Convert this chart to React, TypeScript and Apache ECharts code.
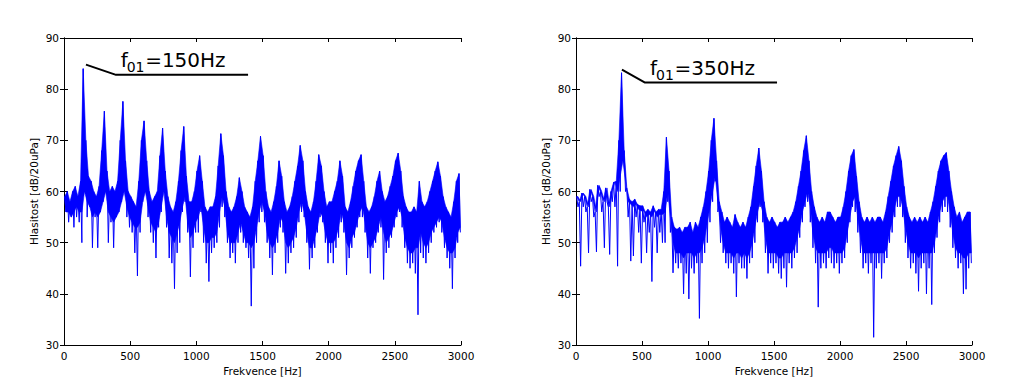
import React, { useEffect, useRef } from "react";
import * as echarts from "echarts";

const BIN_HZ = 20;
const X_TICKS = [0, 500, 1000, 1500, 2000, 2500, 3000];
const Y_TICKS = [30, 40, 50, 60, 70, 80, 90];
const X_NAME = "Frekvence [Hz]";
const Y_NAME = "Hlasitost [dB/20uPa]";

// Upper envelope, dense-band floor and deepest dip of the spectrum per 20 Hz bin (dB)
const LEFT_HI = [
  59, 60, 58, 60, 61, 59, 62, 84, 70, 63,
  62, 60, 59, 61, 68, 75.7, 64, 60, 61, 60,
  62, 70, 77.6, 66, 60, 59, 58, 57, 62, 70,
  73.8, 66, 60, 58, 59, 60, 67, 72.4, 64, 59,
  57, 56, 58, 62, 68, 72.7, 63, 58, 58, 60,
  64, 67, 62, 57, 56, 57, 57, 59, 65, 71.3,
  67, 60, 57, 56, 57, 59, 62.7, 60, 57, 56,
  55, 57, 62, 66, 70.8, 67, 60, 57, 56, 58,
  61, 66, 63, 58, 56, 57, 59, 62, 65, 69,
  66, 60, 57, 56, 58, 62, 67.2, 65, 60, 57,
  58, 58, 60, 62, 66, 63, 57, 56, 58, 61,
  64, 66, 67.2, 62, 57, 56, 57, 59, 62, 64,
  60, 58, 59, 61, 63, 66, 67.5, 64, 59, 57,
  56, 56, 57, 56, 62, 58, 57, 58, 60, 62,
  64, 65.8, 63, 59, 57, 56, 55, 58, 62, 63.5,
];
const LEFT_FLOOR = [
  56, 56, 55, 56, 57, 56, 56, 60, 58, 57,
  55, 56, 55, 56, 58, 60, 56, 55, 54, 55,
  56, 58, 60, 57, 55, 54, 53, 53, 54, 58,
  60, 57, 54, 53, 52, 54, 57, 60, 55, 52,
  51, 50, 52, 54, 57, 59, 54, 51, 52, 54,
  55, 57, 53, 50, 50, 51, 51, 52, 56, 59,
  57, 52, 50, 50, 50, 52, 54, 52, 50, 50,
  49, 50, 53, 56, 58, 56, 52, 50, 49, 50,
  52, 55, 54, 50, 49, 50, 51, 53, 56, 58,
  56, 52, 49, 49, 51, 53, 56, 55, 52, 50,
  50, 50, 51, 53, 56, 54, 50, 49, 51, 52,
  54, 56, 57, 54, 50, 49, 50, 51, 53, 55,
  52, 50, 51, 52, 54, 56, 57, 55, 51, 49,
  48, 48, 49, 49, 52, 50, 49, 50, 52, 53,
  54, 55, 54, 51, 49, 48, 48, 49, 52, 53,
];
const LEFT_LO = [
  56, 54, 55, 53, 55, 54, 50, 60, 55, 57,
  49, 55, 49, 56, 58, 60, 50, 54, 49, 55,
  56, 58, 62, 55, 53, 52, 48, 43.5, 52, 58,
  60, 55, 52, 50, 47, 53, 56, 60, 53, 47,
  46, 41, 48, 50, 56, 58, 52, 43.3, 49, 52,
  52, 56, 50, 46, 42.4, 48, 49, 50, 53, 57,
  55, 50, 47, 48, 46, 50, 52, 50, 49, 47,
  37.6, 45, 50, 54, 56, 54, 50, 47, 43.7, 48,
  50, 53, 52, 44, 46, 48, 49, 51, 54, 56,
  55, 50, 44.8, 47, 49, 52, 55, 54, 50, 46,
  48, 46, 49, 51, 54, 52, 43.7, 47, 49, 51,
  53, 55, 55, 52, 47, 44, 49, 50, 52, 53,
  42.8, 48, 49, 51, 53, 55, 56, 53, 49, 46,
  45, 46, 44, 35.9, 48, 47, 46, 48, 50, 52,
  53, 54, 52, 49, 47, 45, 41, 47, 50, 52,
];
const RIGHT_HI = [
  59, 58, 59.7, 59, 57, 60.4, 59, 56, 61.2, 60,
  58, 60.7, 57, 60, 61.8, 62, 70, 83.2, 68, 60.7,
  58.5, 58, 58.5, 57.5, 57.2, 57.2, 56, 56.5, 56, 57.2,
  56, 56.5, 56.5, 60, 70.6, 64, 55, 53, 52.6, 53,
  52, 53, 53, 54, 52, 54, 53, 55, 57, 60,
  64, 70, 74.3, 66, 58, 56, 54, 55, 54, 53,
  55.5, 54, 53, 54, 53, 55, 57, 61, 65, 68.5,
  64, 58, 55, 54, 55, 54, 53, 54, 54, 55,
  54, 55, 56, 58, 61, 64, 68, 70.9, 66, 60,
  57, 55, 54, 55, 54, 56, 56, 55, 54, 55,
  55, 57, 60, 64, 67, 68.2, 63, 58, 55, 54,
  55, 54, 55, 54, 55, 55, 54, 56, 59, 62,
  65, 67, 68.8, 66, 61, 57, 55, 54, 55, 54,
  55, 54, 55, 54, 56, 58, 61, 64, 66, 67,
  67.6, 64, 60, 57, 55, 56, 54, 55, 56, 56,
];
const RIGHT_FLOOR = [
  59, 58, 59.7, 59, 57, 60.4, 59, 56, 61.2, 60,
  58, 60.7, 57, 60, 61.8, 60, 63, 66, 62, 58,
  57.5, 57, 57.5, 56.5, 56.2, 56.2, 55, 55.5, 55, 56.2,
  55, 55.5, 55.5, 56, 60, 55, 50, 48, 48, 48,
  47, 48, 48, 48, 47, 48, 48, 49, 51, 54,
  57, 60, 63, 58, 53, 50, 48, 48, 48, 47,
  48, 48, 47, 48, 47, 48, 50, 53, 56, 58,
  56, 51, 48, 48, 48, 48, 47, 47, 48, 48,
  48, 48, 49, 51, 53, 56, 58, 60, 57, 52,
  49, 48, 48, 48, 48, 49, 49, 48, 48, 48,
  48, 49, 52, 55, 58, 59, 55, 51, 48, 48,
  48, 48, 48, 48, 48, 48, 48, 49, 52, 54,
  57, 59, 59, 57, 53, 50, 48, 48, 48, 47,
  48, 48, 48, 48, 48, 50, 53, 56, 58, 59,
  59, 56, 52, 49, 48, 48, 47, 47, 48, 48,
];
const RIGHT_LO = [
  57, 45.4, 57, 56, 48, 58, 55, 48.2, 59, 56,
  49, 58, 47.7, 58, 57, 45.4, 60, 66, 60, 55,
  46.4, 47.4, 55, 52, 46, 54, 48, 52, 42.4, 53,
  48, 52, 50, 50, 58, 52, 44.1, 46, 45, 46,
  40, 44, 39, 45, 44, 46, 35.2, 46, 48, 50,
  54, 58, 62, 56, 50, 48, 46, 45, 46, 44,
  39.4, 46, 45, 45, 43, 46, 47, 50, 54, 57,
  54, 48, 44, 46, 45, 46, 44, 43, 45, 41.3,
  46, 45, 47, 48, 51, 54, 57, 58, 54, 49,
  46, 37.4, 45, 46, 45, 47, 46, 45, 46, 44,
  46, 47, 50, 54, 57, 56, 52, 48, 45, 46,
  44, 46, 31.5, 45, 46, 43, 46, 47, 50, 52,
  55, 57, 57, 55, 50, 47, 45, 46, 44, 40.5,
  45, 46, 40, 45, 37.9, 48, 51, 54, 56, 57,
  56, 53, 49, 47, 45, 46, 40, 40.9, 45, 46,
];

// Annotations (data coordinates: Hz, dB)
const LEFT_ANNOT_LINE = [[166, 84.8], [393, 82.8], [1391, 82.8]];
const RIGHT_ANNOT_LINE = [[348, 83.8], [523, 81.3], [1523, 81.3]];
const LEFT_LABEL = { main: "f", sub: "01", rest: "=150Hz", at: [428, 84.3] };
const RIGHT_LABEL = { main: "f", sub: "01", rest: "=350Hz", at: [561, 82.7] };

const FONT = "'DejaVu Sans', sans-serif";
const BLUE = "#0000ff";

function zigzag(hi: number[], lo: number[]) {
  const pts: number[][] = [];
  for (let i = 0; i < hi.length; i++) {
    pts.push([i * BIN_HZ + BIN_HZ / 4, hi[i]]);
    pts.push([i * BIN_HZ + (3 * BIN_HZ) / 4, lo[i]]);
  }
  return pts;
}

function bandSeries(hi: number[], floor: number[], axisIndex: number) {
  return {
    type: "custom",
    xAxisIndex: axisIndex,
    yAxisIndex: axisIndex,
    data: [[0, floor[0]]],
    clip: true,
    z: 1,
    renderItem: (_params: any, api: any) => {
      const top: number[][] = [];
      const bottom: number[][] = [];
      for (let i = 0; i < hi.length; i++) {
        top.push(api.coord([i * BIN_HZ + BIN_HZ / 4, hi[i]]));
        bottom.push(api.coord([i * BIN_HZ + (3 * BIN_HZ) / 4, floor[i]]));
      }
      return {
        type: "polygon",
        shape: { points: [...top, ...bottom.reverse()] },
        style: { fill: BLUE, stroke: BLUE, lineWidth: 0.6 },
      };
    },
  };
}

function axesFor(gridIndex: number) {
  const tick = { show: true, inside: true, length: 4, lineStyle: { color: "#000", width: 1 } };
  const line = { show: true, lineStyle: { color: "#000", width: 1 } };
  const xMin = X_TICKS[0];
  const xMax = X_TICKS[X_TICKS.length - 1];
  const yMin = Y_TICKS[0];
  const yMax = Y_TICKS[Y_TICKS.length - 1];
  const xInt = X_TICKS[1] - X_TICKS[0];
  const yInt = Y_TICKS[1] - Y_TICKS[0];
  const plain = (v: number) => String(v);
  const xAxes = [
    {
      type: "value", gridIndex, position: "bottom", min: xMin, max: xMax, interval: xInt,
      axisLine: line, axisTick: tick, splitLine: { show: false },
      axisLabel: { color: "#000", fontSize: 10.5, fontFamily: FONT, margin: 5, formatter: plain },
      name: X_NAME, nameLocation: "middle", nameGap: 15,
      nameTextStyle: { color: "#000", fontSize: 10.5, fontFamily: FONT },
    },
    {
      type: "value", gridIndex, position: "top", min: xMin, max: xMax, interval: xInt,
      axisLine: line, axisTick: tick, splitLine: { show: false }, axisLabel: { show: false },
    },
  ];
  const yAxes = [
    {
      type: "value", gridIndex, position: "left", min: yMin, max: yMax, interval: yInt,
      axisLine: line, axisTick: tick, splitLine: { show: false },
      axisLabel: { color: "#000", fontSize: 10.5, fontFamily: FONT, margin: 5, formatter: plain },
      name: Y_NAME, nameLocation: "middle", nameGap: 25,
      nameTextStyle: { color: "#000", fontSize: 10.5, fontFamily: FONT },
    },
    {
      type: "value", gridIndex, position: "right", min: yMin, max: yMax, interval: yInt,
      axisLine: line, axisTick: tick, splitLine: { show: false }, axisLabel: { show: false },
    },
  ];
  return { xAxes, yAxes };
}

export default function App() {
  const ref = useRef<HTMLDivElement>(null);
  useEffect(() => {
    if (!ref.current) return;
    const chart = echarts.init(ref.current, undefined, { renderer: "svg" });
    const a0 = axesFor(0);
    const a1 = axesFor(1);
    chart.setOption({
      animation: false,
      backgroundColor: "#fff",
      grid: [
        { left: 64, top: 38, width: 397, height: 307, show: false, outerBoundsMode: "none" },
        { left: 576, top: 38, width: 396, height: 307, show: false, outerBoundsMode: "none" },
      ],
      xAxis: [...a0.xAxes, ...a1.xAxes],
      yAxis: [...a0.yAxes, ...a1.yAxes],
      series: [
        bandSeries(LEFT_HI, LEFT_FLOOR, 0),
        bandSeries(RIGHT_HI, RIGHT_FLOOR, 2),
        {
          type: "line", xAxisIndex: 0, yAxisIndex: 0, data: zigzag(LEFT_HI, LEFT_LO),
          showSymbol: false, symbol: "none", lineStyle: { color: BLUE, width: 1 }, z: 2,
        },
        {
          type: "line", xAxisIndex: 2, yAxisIndex: 2, data: zigzag(RIGHT_HI, RIGHT_LO),
          showSymbol: false, symbol: "none", lineStyle: { color: BLUE, width: 1 }, z: 2,
        },
        {
          type: "line", xAxisIndex: 0, yAxisIndex: 0, data: LEFT_ANNOT_LINE,
          showSymbol: false, symbol: "none", lineStyle: { color: "#000", width: 2 }, z: 5,
        },
        {
          type: "line", xAxisIndex: 2, yAxisIndex: 2, data: RIGHT_ANNOT_LINE,
          showSymbol: false, symbol: "none", lineStyle: { color: "#000", width: 2 }, z: 5,
        },
      ],
    });

    const labelEls = (lab: typeof LEFT_LABEL, gridIndex: number) => {
      const p = chart.convertToPixel({ gridIndex } as any, lab.at) as number[];
      const [x, y] = p;
      const common = { fill: "#000", fontFamily: FONT, verticalAlign: "middle", align: "left" };
      return [
        { type: "text", x, y: y - 7, style: { ...common, text: lab.main, fontSize: 20 } },
        { type: "text", x: x + 6, y: y - 0.4, style: { ...common, text: lab.sub, fontSize: 14 } },
        { type: "text", x: x + 24.5, y: y - 7, style: { ...common, text: lab.rest, fontSize: 20 } },
      ];
    };
    chart.setOption({
      graphic: [...labelEls(LEFT_LABEL, 0), ...labelEls(RIGHT_LABEL, 1)],
    });

    return () => chart.dispose();
  }, []);
  return (
    <div
      ref={ref}
      style={{ position: "fixed", left: 0, top: 0, width: 1024, height: 384, background: "#fff" }}
    />
  );
}
